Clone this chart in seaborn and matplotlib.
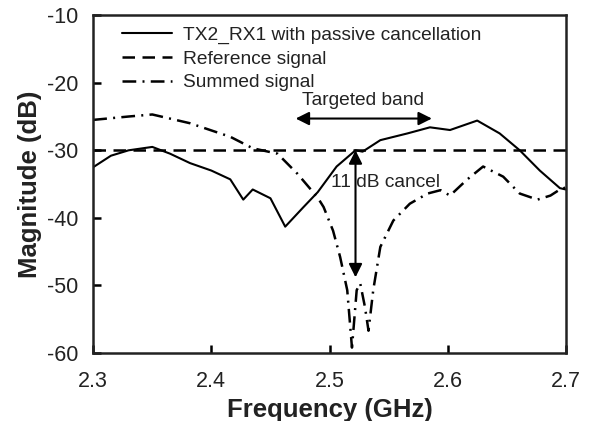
import numpy as np
import pandas as pd
import matplotlib
matplotlib.use("Agg")
import matplotlib.pyplot as plt
import seaborn as sns

# --- data ---
freq_tx = [2.300, 2.315, 2.330, 2.350, 2.365, 2.382, 2.400, 2.416, 2.427, 2.435, 2.450,
           2.4625, 2.478, 2.490, 2.506, 2.522, 2.528, 2.543, 2.566, 2.585, 2.602,
           2.625, 2.644, 2.661, 2.678, 2.695, 2.700]
mag_tx = [-32.5, -30.8, -30.0, -29.5, -30.5, -31.9, -33.0, -34.3, -37.3, -35.8, -37.1,
          -41.3, -38.4, -36.2, -32.4, -30.0, -30.2, -28.5, -27.5, -26.6, -27.0,
          -25.6, -27.5, -30.0, -33.0, -35.6, -35.8]

freq_sum = [2.300, 2.330, 2.350, 2.382, 2.416, 2.435, 2.456, 2.473, 2.490, 2.495, 2.503,
            2.509, 2.515, 2.519, 2.523, 2.526, 2.530, 2.533, 2.537, 2.543, 2.554,
            2.568, 2.583, 2.594, 2.602, 2.616, 2.630, 2.647, 2.661, 2.676, 2.687,
            2.695, 2.700]
mag_sum = [-25.5, -25.0, -24.7, -26.0, -28.0, -29.7, -30.5, -33.5, -37.0, -38.4, -41.9,
           -45.8, -50.7, -59.2, -50.7, -49.7, -53.2, -56.7, -50.7, -44.3, -40.4,
           -37.9, -36.4, -35.9, -36.7, -34.4, -32.4, -33.9, -36.4, -37.3, -36.7,
           -35.8, -35.5]

freq_ref = [2.3, 2.7]
mag_ref = [-30.0, -30.0]

labels = ["TX2_RX1 with passive cancellation", "Reference signal", "Summed signal"]
xticks = [2.3, 2.4, 2.5, 2.6, 2.7]
yticks = [-60, -50, -40, -30, -20, -10]

sns.set_style("ticks")
plt.rcParams['font.family'] = ['Liberation Sans', 'DejaVu Sans']

fig = plt.figure(figsize=(5.9, 4.21), dpi=100)
ax = fig.add_axes([0.158, 0.1615, 0.801, 0.8025])

df_tx = pd.DataFrame({"f": freq_tx, "m": mag_tx})
df_ref = pd.DataFrame({"f": freq_ref, "m": mag_ref})
df_sum = pd.DataFrame({"f": freq_sum, "m": mag_sum})

sns.lineplot(data=df_tx, x="f", y="m", ax=ax, color="black", lw=1.5, label=labels[0])
sns.lineplot(data=df_ref, x="f", y="m", ax=ax, color="black", lw=1.8, label=labels[1])
ax.lines[-1].set_dashes((5, 3))
sns.lineplot(data=df_sum, x="f", y="m", ax=ax, color="black", lw=1.8, label=labels[2])
ax.lines[-1].set_dashes((5.5, 2.5, 0.8, 2.5))

ax.set_xlim(2.3, 2.7)
ax.set_ylim(-60, -10)
ax.set_xticks(xticks)
ax.set_yticks(yticks)
ax.set_xticklabels([f"{v:.1f}" for v in xticks])
ax.set_yticklabels([str(v) for v in yticks])
ax.tick_params(direction="in", length=6, width=1.8, labelsize=15.5, colors="black",
               labelcolor="#222222")
ax.tick_params(axis="x", pad=13)
ax.tick_params(axis="y", pad=11)
for s in ax.spines.values():
    s.set_linewidth(1.8)
    s.set_color("#222222")

ax.set_xlabel("Frequency (GHz)", fontsize=18.5, fontweight="bold", color="#222222", labelpad=4)
ax.set_ylabel("Magnitude (dB)", fontsize=18.5, fontweight="bold", color="#222222", labelpad=3)

leg = ax.legend(loc="upper left", frameon=False, fontsize=13.8, handlelength=2.6,
                handletextpad=0.6, labelspacing=0.33, borderaxespad=0.0,
                bbox_to_anchor=(0.045, 0.99))
for t in leg.get_texts():
    t.set_color("#222222")

# annotations
ax.annotate("", xy=(2.469, -25.3), xytext=(2.589, -25.3),
            arrowprops=dict(arrowstyle="<|-|>", color="black", lw=1.5, mutation_scale=20))
ax.text(2.528, -22.6, "Targeted band", ha="center", va="center", fontsize=13.8, color="#222222")
ax.annotate("", xy=(2.522, -30.0), xytext=(2.522, -48.8),
            arrowprops=dict(arrowstyle="<|-|>", color="black", lw=1.5, mutation_scale=20,
                            shrinkA=0, shrinkB=0))
ax.text(2.501, -34.7, "11 dB cancel", ha="left", va="center", fontsize=13.8, color="#222222")

fig.savefig("out.png", dpi=100)
